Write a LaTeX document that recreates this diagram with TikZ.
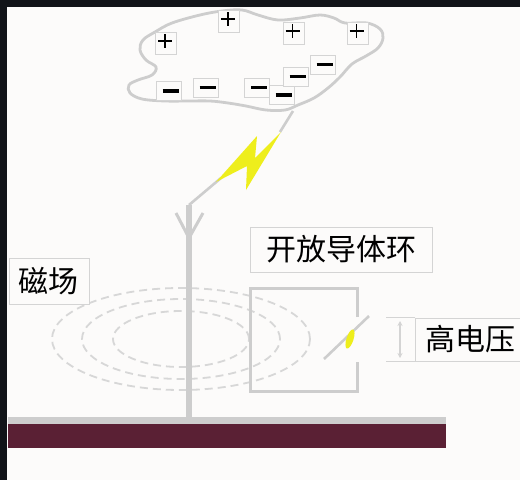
\documentclass[tikz,border=0pt]{standalone}
\usepackage{fontspec}
\newfontfamily\cjk{Noto Sans CJK SC}
\usetikzlibrary{arrows.meta}
\definecolor{stormFrame}{RGB}{17,20,24}
\definecolor{stormPaper}{RGB}{252,251,250}
\definecolor{stormLine}{RGB}{205,205,205}
\definecolor{stormEdge}{RGB}{212,212,212}
\definecolor{stormDash}{RGB}{215,215,215}
\definecolor{stormBolt}{RGB}{238,238,28}
\definecolor{stormEarth}{RGB}{90,32,52}
\definecolor{stormInk}{RGB}{0,0,0}

\tikzset{
  charge/.style={draw=stormEdge, line width=0.9pt, fill=stormPaper, inner sep=0pt},
  pos charge/.style={charge, minimum width=21pt, minimum height=22pt,
    path picture={
      \draw[stormInk, line width=1.7pt]
        ([xshift=-8pt,yshift=2pt]path picture bounding box.center) -- ++(14pt,0)
        ([xshift=-1pt,yshift=9pt]path picture bounding box.center) -- ++(0,-14pt);}},
  neg charge/.style={charge, minimum width=25pt, minimum height=19pt,
    path picture={
      \draw[stormInk, line width=3.6pt]
        ([xshift=-6pt]path picture bounding box.center) -- ++(16pt,0);}},
  labelbox/.style={draw=stormEdge, line width=0.9pt, fill=stormPaper, inner sep=0pt,
    text=stormInk, font=\cjk\fontsize{30}{30}\selectfont},
  field line/.style={stormDash, line width=1.8pt, dash pattern=on 8pt off 5pt},
  grey stroke/.style={stormLine, line width=2.6pt},
}

\begin{document}
\begin{tikzpicture}[x=1pt,y=-1pt]
  \fill[stormPaper] (0,0) rectangle (520,480);
  \useasboundingbox (0,0) rectangle (520,480);

  % magnetic field round the mast
  \draw[field line] (181,339) ellipse [x radius=129pt, y radius=51pt];
  \draw[field line] (181,339) ellipse [x radius=99pt, y radius=40pt];
  \draw[field line] (181,339) ellipse [x radius=68pt, y radius=28pt];

  % mast
  \coordinate (mast top) at (189,205);
  \coordinate (mast foot) at (189,418);
  \coordinate (fork left) at (176,213);
  \coordinate (fork joint) at (189,238);
  \coordinate (fork right) at (203,213);
  \draw[stormLine, line width=6pt] (mast top) -- (mast foot);
  \draw[stormLine, line width=3pt] (fork left) -- (fork joint) -- (fork right);

  % open loop with the spark across its gap
  \coordinate (gap top) at (357,317);
  \coordinate (gap foot) at (357,362);
  \coordinate (loop nw) at (250,288);
  \coordinate (loop se) at (357,391);
  \draw[stormLine, line width=3pt]
    (gap top) |- (loop nw) |- (loop se) -- (gap foot);
  \coordinate (arc low) at (324,359);
  \coordinate (arc high) at (369,316);
  \draw[grey stroke] (arc low) -- (arc high);
  \fill[stormBolt, rotate around={-18:(350,339)}]
    (350,339) ellipse [x radius=3.5pt, y radius=10pt];

  % labels
  \node[labelbox, minimum width=80pt, minimum height=46pt] (field) at (49,281) {磁场};
  \node[labelbox, minimum width=182pt, minimum height=45pt] (loop) at (341,249.5) {开放导体环};
  \node[labelbox, anchor=west, minimum width=110pt, minimum height=43pt] (volt) at (415,339.5) {高电压};
  \draw[stormEdge, line width=0.9pt] (volt.north west) -- ++(-29pt,0);
  \draw[stormEdge, line width=0.9pt] (volt.south west) -- ++(-29pt,0);
  \coordinate (gauge top) at (400,321);
  \coordinate (gauge foot) at (400,358);
  \draw[stormEdge, line width=1.4pt, {Stealth[length=5pt,width=5pt]}-{Stealth[length=5pt,width=5pt]}]
    (gauge top) -- (gauge foot);

  % cloud
  \draw[stormLine, line width=2.8pt] plot[smooth cycle, tension=0.6] coordinates {
    (155,32) (172,23) (200,15) (222,11) (242,10) (258,15) (278,20) (300,18)
    (320,15) (334,18) (345,23) (367,23) (380,29) (383,38) (378,48) (366,56)
    (352,64) (340,77) (328,88) (314,98) (298,105) (285,110) (266,110) (246,106)
    (228,103) (210,101) (188,101) (165,101) (142,99) (130,93) (129,85) (138,80)
    (152,75) (156,67) (146,60) (140,50) (143,40)};

  \foreach \x/\y [count=\i] in {166/43, 229/21, 293.5/33, 357.5/33}
    \node[pos charge] (plus\i) at (\x,\y) {};
  \foreach \x/\y [count=\i] in {168.5/91, 205.5/87.5, 257/87.5, 281.5/95, 295.5/76.5, 322.5/64.5}
    \node[neg charge] (minus\i) at (\x,\y) {};

  % lightning down to the mast
  \coordinate (cloud tip) at (293,111);
  \coordinate (bolt top) at (280,132);
  \coordinate (bolt tail) at (221,178);
  \draw[grey stroke] (cloud tip) -- (bolt top);
  \draw[grey stroke] (bolt tail) -- (mast top);
  \fill[stormBolt] (216,182) -- (257,136) -- (255,158) -- (281,132)
    -- (246,190) -- (247,166) -- cycle;

  % ground
  \fill[stormLine] (8,417) rectangle (446,424);
  \fill[stormEarth] (8,424) rectangle (446,448);

  % frame
  \fill[stormFrame] (0,0) rectangle (520,7);
  \fill[stormFrame] (0,0) rectangle (7,480);
\end{tikzpicture}
\end{document}
